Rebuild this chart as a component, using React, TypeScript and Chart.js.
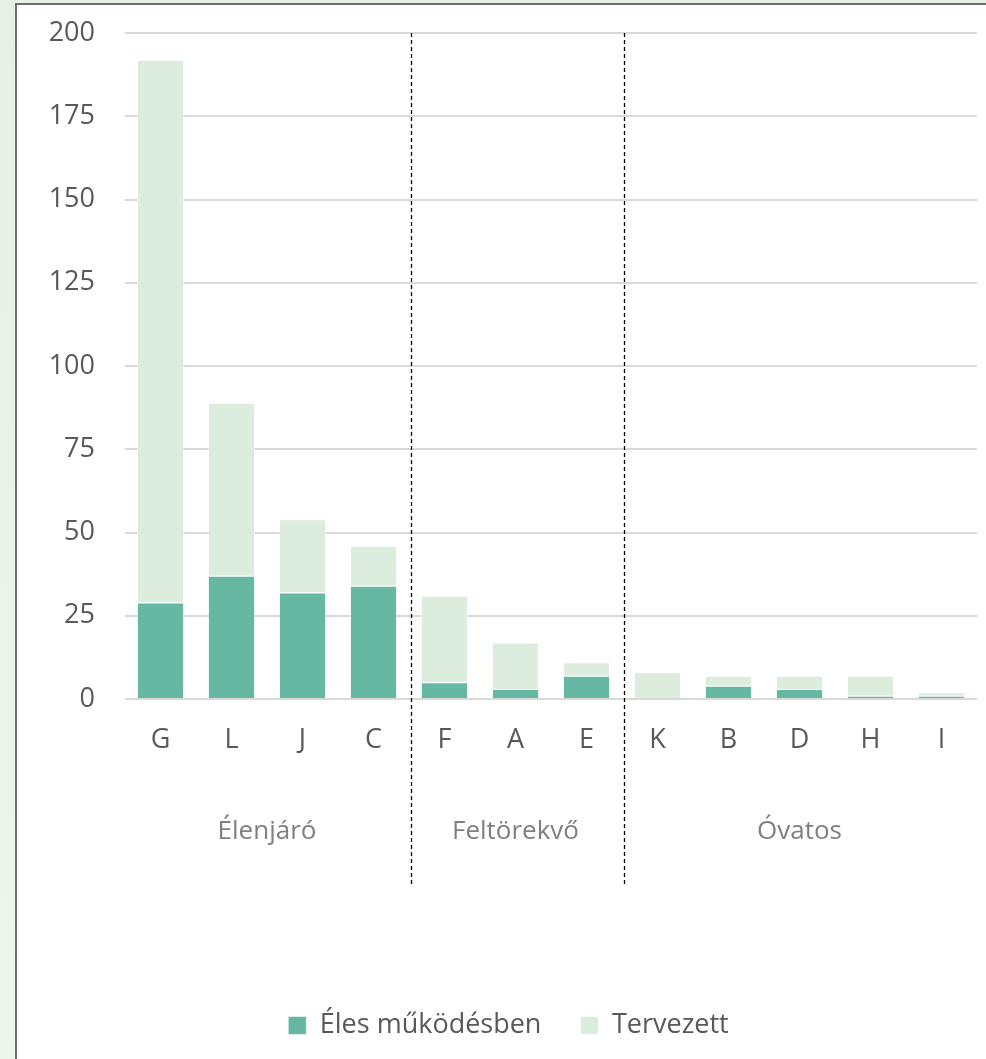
import React, { useEffect, useRef } from "react";
import { Chart, registerables } from "chart.js";

Chart.register(...registerables);

const categories = ["G", "L", "J", "C", "F", "A", "E", "K", "B", "D", "H", "I"];
const activeValues = [29, 37, 32, 34, 5, 3, 7, 0, 4, 3, 1, 1];
const plannedValues = [163, 52, 22, 12, 26, 14, 4, 8, 3, 4, 6, 1];
const seriesNames = ["Éles működésben", "Tervezett"];
const groupNames = ["Élenjáró", "Feltörekvő", "Óvatos"];
const groupSizes = [4, 3, 5];
const yTicks = [0, 25, 50, 75, 100, 125, 150, 175, 200];

const FONT = "'Open Sans', 'Noto Sans', sans-serif";

const groupPlugin = {
  id: "groupPlugin",
  afterDraw(chart: any) {
    const ctx = chart.ctx;
    const x = chart.scales.x;
    const area = chart.chartArea;
    ctx.save();
    // group labels
    let start = 0;
    ctx.font = `26px ${FONT}`;
    ctx.fillStyle = "#808080";
    ctx.textAlign = "center";
    ctx.textBaseline = "alphabetic";
    groupNames.forEach((name, i) => {
      const end = start + groupSizes[i] - 1;
      const cx = (x.getPixelForValue(start) + x.getPixelForValue(end)) / 2;
      ctx.fillText(name, cx, area.bottom + 140);
      start += groupSizes[i];
    });
    // dashed separators
    ctx.strokeStyle = "#000000";
    ctx.lineWidth = 1.3;
    ctx.setLineDash([4, 3]);
    let idx = 0;
    for (let i = 0; i < groupSizes.length - 1; i++) {
      idx += groupSizes[i];
      const px = Math.round(x.getPixelForValue(idx - 0.47)) + 0.5;
      ctx.beginPath();
      ctx.moveTo(px, area.top);
      ctx.lineTo(px, area.bottom + 186);
      ctx.stroke();
    }
    ctx.restore();
  },
};

export default function App() {
  const ref = useRef<HTMLCanvasElement | null>(null);

  useEffect(() => {
    document.body.style.margin = "0";
    if (!ref.current) return;
    const chart = new Chart(ref.current, {
      type: "bar",
      data: {
        labels: categories,
        datasets: [
          {
            label: seriesNames[0],
            data: activeValues,
            backgroundColor: "#67b8a3",
            borderColor: "rgba(255,255,255,0.5)",
            borderWidth: 1,
            barPercentage: 0.665,
            categoryPercentage: 1,
          },
          {
            label: seriesNames[1],
            data: plannedValues,
            backgroundColor: "#dcedde",
            borderColor: "rgba(255,255,255,0.5)",
            borderWidth: 1,
            barPercentage: 0.665,
            categoryPercentage: 1,
          },
        ],
      },
      options: {
        responsive: false,
        animation: false,
        devicePixelRatio: 1,
        layout: { padding: { left: 40, right: 9, top: 33, bottom: 10 } },
        plugins: {
          tooltip: { enabled: false },
          legend: {
            position: "bottom",
            labels: {
              boxWidth: 18,
              boxHeight: 18,
              padding: 39,
              color: "#595959",
              font: { family: FONT, size: 27 },
            },
          },
        },
        scales: {
          x: {
            stacked: true,
            grid: { display: false, drawTicks: false },
            border: { display: false },
            ticks: {
              color: "#595959",
              font: { family: FONT, size: 27 },
              padding: 25,
            },
            afterFit(scale: any) {
              scale.height = 274;
            },
          },
          y: {
            stacked: true,
            min: 0,
            max: 200,
            afterBuildTicks(scale: any) {
              scale.ticks = yTicks.map((v) => ({ value: v }));
            },
            grid: {
              color: "#d9d9d9",
              lineWidth: 2,
              drawTicks: true,
              tickLength: 30,
              tickColor: "rgba(0,0,0,0)",
            },
            border: { display: false },
            ticks: {
              color: "#595959",
              font: { family: FONT, size: 27 },
              padding: 0,
            },
            afterFit(scale: any) {
              scale.width = 85;
            },
          },
        },
      },
      plugins: [groupPlugin],
    });
    return () => chart.destroy();
  }, []);

  return (
    <div
      style={{
        position: "fixed",
        left: 0,
        top: 0,
        width: 986,
        height: 1059,
        background: "linear-gradient(180deg, #e4f1e4 0%, #eef6ee 100%)",
        overflow: "hidden",
      }}
    >
      <div
        style={{
          position: "absolute",
          left: 15,
          top: 3,
          right: 0,
          bottom: 0,
          background: "#ffffff",
          borderLeft: "2px solid #6e6e6e",
          borderTop: "2px solid #6e6e6e",
        }}
      />
      <canvas
        ref={ref}
        width={986}
        height={1059}
        style={{ position: "absolute", left: 0, top: 0, width: 986, height: 1059 }}
      />
    </div>
  );
}
